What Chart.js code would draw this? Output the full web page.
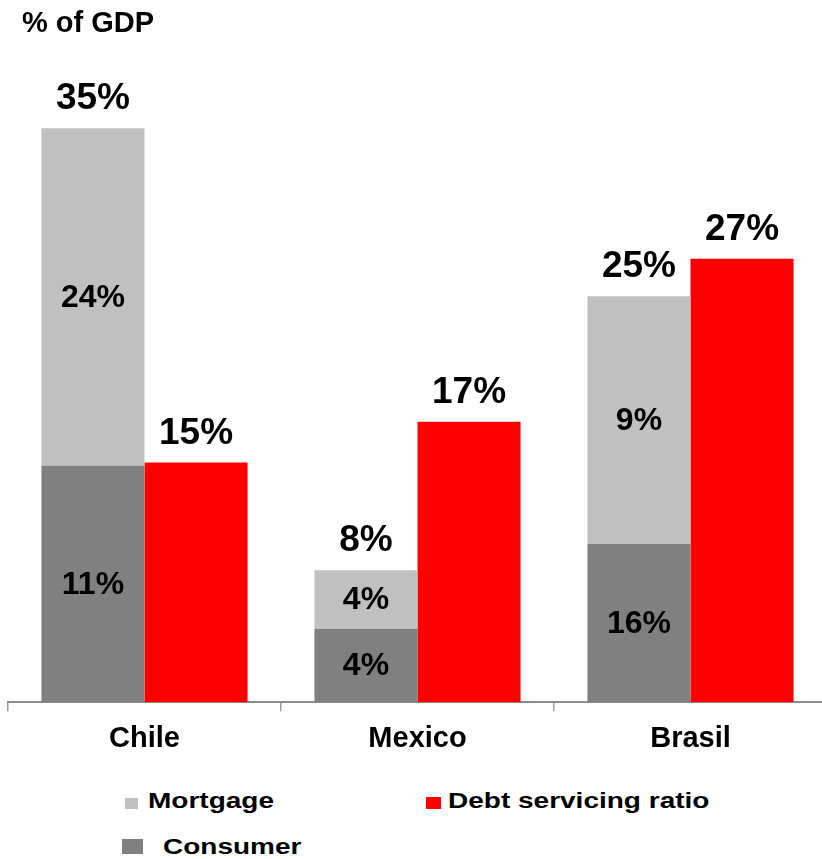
<!DOCTYPE html>
<html>
<head>
    <meta charset="utf-8">
    <title>% of GDP</title>
    <style>
        body { margin: 0; width: 822px; height: 859px; overflow: hidden; background: #fff; position: relative;
               font-family: "Liberation Sans", Arial, sans-serif; font-weight: bold; color: #000; }
        #grafico { position: absolute; left: 0; top: 0; }
        .titulo { position: absolute; left: 22px; top: 8px; font-size: 29px; line-height: 1; white-space: nowrap; }
        .cuadro { position: absolute; }
        .texto { position: absolute; font-size: 28px; line-height: 1; white-space: nowrap;
                 transform: scaleY(0.8); transform-origin: 0 0; }
    </style>
</head>
<body>
    <canvas id="grafico" width="830" height="770"></canvas>
    <div class="titulo">% of GDP</div>

    <!-- leyenda -->
    <div class="cuadro" style="left:125px; top:798px; width:13px; height:11px; background:#c0c0c0;"></div>
    <div class="texto" style="left:148px; top:790px;">Mortgage</div>
    <div class="cuadro" style="left:426px; top:797px; width:15px; height:12px; background:#ff0000;"></div>
    <div class="texto" style="left:448px; top:790px;">Debt servicing ratio</div>
    <div class="cuadro" style="left:122px; top:839px; width:21px; height:15px; background:#808080;"></div>
    <div class="texto" style="left:163px; top:836px;">Consumer</div>

    <script src="https://cdn.jsdelivr.net/npm/chart.js@4.4.0/dist/chart.umd.min.js"></script>
    <script>
        const categories = ['Chile', 'Mexico', 'Brasil'];
        const consumer = [14.5, 4.5, 9.7];
        const mortgage = [20.7, 3.6, 15.2];
        const debtService = [14.7, 17.2, 27.2];

        const consumerLabels = ['11%', '4%', '16%'];
        const mortgageLabels = ['24%', '4%', '9%'];
        const totalLabels = ['35%', '8%', '25%'];
        const debtLabels = ['15%', '17%', '27%'];

        const fuente = '"Liberation Sans", Arial, sans-serif';

        // Etiquetas sobre y dentro de las barras
        const etiquetas = {
            id: 'etiquetas',
            afterDatasetsDraw(chart) {
                const ctx = chart.ctx;
                const cons = chart.getDatasetMeta(0).data;
                const mort = chart.getDatasetMeta(1).data;
                const debt = chart.getDatasetMeta(2).data;
                ctx.save();
                ctx.fillStyle = '#000';
                ctx.textAlign = 'center';
                ctx.textBaseline = 'middle';
                ctx.font = 'bold 32px ' + fuente;
                cons.forEach((bar, i) => {
                    ctx.fillText(consumerLabels[i], bar.x, (bar.y + bar.base) / 2 + 1);
                    ctx.fillText(mortgageLabels[i], mort[i].x, (mort[i].y + mort[i].base) / 2 + 1);
                });
                ctx.font = 'bold 37px ' + fuente;
                ctx.textBaseline = 'alphabetic';
                mort.forEach((bar, i) => ctx.fillText(totalLabels[i], bar.x, bar.y - 19));
                debt.forEach((bar, i) => ctx.fillText(debtLabels[i], bar.x, bar.y - 19));
                ctx.restore();
            }
        };

        new Chart(document.getElementById('grafico'), {
            type: 'bar',
            data: {
                labels: categories,
                datasets: [
                    { label: 'Consumer', data: consumer, backgroundColor: '#808080', stack: 'loans' },
                    { label: 'Mortgage', data: mortgage, backgroundColor: '#c0c0c0', stack: 'loans' },
                    { label: 'Debt servicing ratio', data: debtService, backgroundColor: '#ff0000', stack: 'dsr' }
                ]
            },
            options: {
                responsive: false,
                animation: false,
                categoryPercentage: 0.755,
                barPercentage: 1.0,
                layout: { padding: { top: 50, left: 8, right: 3, bottom: 4 } },
                plugins: {
                    legend: { display: false },
                    tooltip: { enabled: false }
                },
                scales: {
                    x: {
                        stacked: true,
                        grid: { offset: true, drawOnChartArea: false, color: '#9a9a9a', lineWidth: 1.5, tickLength: 9 },
                        border: { color: '#8c8c8c', width: 2 },
                        ticks: { color: '#000', padding: 10, font: { family: fuente, size: 29, weight: 'bold' } }
                    },
                    y: {
                        display: false,
                        stacked: true,
                        min: 0,
                        max: 40
                    }
                }
            },
            plugins: [etiquetas]
        });
    </script>
</body>
</html>
